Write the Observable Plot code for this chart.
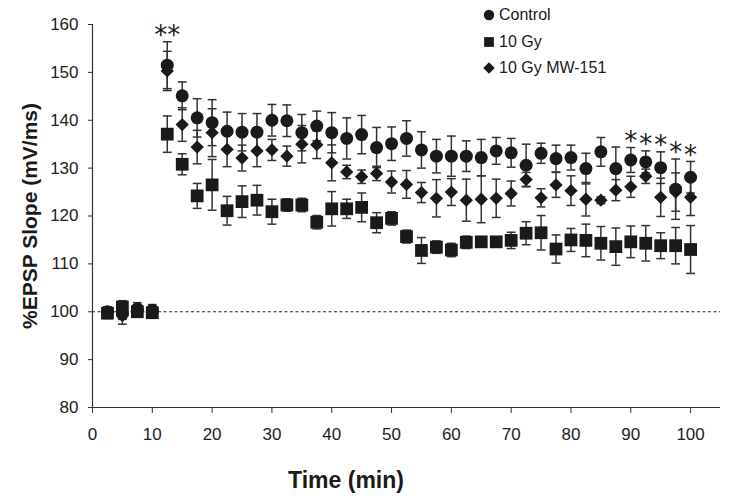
<!DOCTYPE html>
<html>
<head>
<meta charset="utf-8">
<script src="https://cdn.jsdelivr.net/npm/d3@7"></script>
<script src="https://cdn.jsdelivr.net/npm/@observablehq/plot@0.6"></script>
<style>
  html, body { margin: 0; padding: 0; background: #fff; }
  #wrap { position: relative; width: 729px; height: 501px; font-family: "Liberation Sans", Arial, sans-serif; color: #1a1a1a; }
  #legend { position: absolute; left: 481px; top: 2px; font-size: 16px; line-height: 26.5px; }
  #legend .item { display: flex; align-items: center; height: 26.5px; }
  #legend svg { margin-right: 2px; }
  .ylab { position: absolute; left: 30px; top: 216px; transform: translate(-50%, -50%) rotate(-90deg); font-weight: bold; font-size: 21px; white-space: nowrap; color: #1a1a1a; }
  .xlab { position: absolute; left: 346px; top: 480px; transform: translate(-50%, -50%); font-weight: bold; font-size: 23px; white-space: nowrap; color: #1a1a1a; }
</style>
</head>
<body>
<div id="wrap"></div>
<script>
// ---- data ----
const times = [2.5, 5, 7.5, 10, 12.5, 15, 17.5, 20, 22.5, 25, 27.5, 30, 32.5, 35, 37.5, 40, 42.5, 45, 47.5, 50,
  52.5, 55, 57.5, 60, 62.5, 65, 67.5, 70, 72.5, 75, 77.5, 80, 82.5, 85, 87.5, 90, 92.5, 95, 97.5, 100];

const seriesNames = ["Control", "10 Gy", "10 Gy MW-151"];

const controlMean = [100.0, 99.6, 100.6, 100.3,
  151.5, 145.1, 140.5, 139.5, 137.7, 137.5, 137.5, 140.0, 139.9, 137.4, 138.8, 137.4, 136.2, 137.0, 134.3, 135.1,
  136.2, 133.8, 132.5, 132.5, 132.5, 132.2, 133.6, 133.2, 130.6, 133.1, 132.0, 132.2, 129.9, 133.4, 129.9, 131.7,
  131.3, 130.1, 125.6, 128.1];
const controlSE = [1.0, 1.2, 1.3, 1.2,
  4.9, 2.9, 4.0, 4.8, 4.0, 3.9, 3.9, 3.3, 3.3, 3.8, 3.1, 4.2, 4.3, 4.0, 4.2, 3.5,
  3.7, 3.8, 3.5, 4.2, 3.2, 3.8, 2.8, 3.0, 4.4, 2.1, 2.8, 2.6, 3.2, 3.0, 4.5, 2.6,
  2.3, 3.3, 6.3, 3.3];

const gyMean = [99.7, 101.0, 100.0, 99.8,
  137.1, 130.8, 124.2, 126.5, 121.1, 123.0, 123.3, 120.9, 122.3, 122.3, 118.7, 121.5, 121.5, 121.8, 118.6, 119.5,
  115.7, 112.8, 113.5, 112.9, 114.5, 114.6, 114.6, 114.9, 116.4, 116.5, 113.1, 115.0, 114.9, 114.3, 113.6, 114.6,
  114.3, 113.8, 113.8, 113.0];
const gySE = [1.0, 1.3, 1.0, 1.0,
  3.8, 2.2, 2.6, 5.3, 3.0, 3.3, 3.1, 2.6, 1.3, 1.4, 1.4, 3.6, 2.0, 3.0, 2.1, 1.4,
  1.35, 2.7, 1.3, 1.4, 1.3, 1.0, 1.0, 1.7, 2.4, 3.6, 2.95, 2.4, 3.4, 3.5, 3.9, 3.3,
  3.7, 2.7, 3.8, 5.0];

const mwMean = [99.8, 99.2, 100.2, 99.8,
  150.3, 139.1, 134.4, 137.4, 133.9, 132.1, 133.6, 133.8, 132.5, 135.0, 134.9, 131.1, 129.2, 128.2, 128.9, 127.1,
  126.6, 124.9, 123.7, 125.0, 123.3, 123.5, 123.7, 124.7, 127.6, 123.8, 126.5, 125.3, 123.5, 123.3, 125.4, 126.1,
  128.3, 123.9, 125.0, 123.9];
const mwSE = [1.2, 1.8, 1.0, 1.0,
  4.1, 3.5, 3.5, 5.0, 3.6, 2.7, 3.3, 2.2, 2.1, 3.9, 2.9, 3.75, 1.4, 1.4, 1.5, 2.3,
  2.9, 2.1, 3.9, 2.8, 4.4, 4.9, 4.0, 2.6, 1.5, 1.9, 2.6, 3.1, 3.5, 0.7, 2.2, 2.2,
  1.5, 4.0, 4.0, 3.8];

const xTicks = [0, 10, 20, 30, 40, 50, 60, 70, 80, 90, 100];
const yTicks = [80, 90, 100, 110, 120, 130, 140, 150, 160];

// significance marks (placed above the Control error bar)
const sigTimes = [12.5, 90, 92.5, 95, 97.5, 100];
const sigLabels = ["**", "*", "*", "*", "*", "*"];

// ---- build table ----
const means = [controlMean, gyMean, mwMean];
const ses = [controlSE, gySE, mwSE];
const rows = [];
seriesNames.forEach((s, i) => times.forEach((t, j) => rows.push({series: s, t, m: means[i][j], se: ses[i][j]})));
const sigRows = sigTimes.map((t, k) => {
  const j = times.indexOf(t);
  return {t, label: sigLabels[k], top: controlMean[j] + controlSE[j]};
});

const cap = {draw(ctx, size) { const w = Math.sqrt(size) / 2; ctx.moveTo(-w, 0); ctx.lineTo(w, 0); }};
const ink = "#1a1a1a";
const barInk = "#333";

const plot = Plot.plot({
  width: 729,
  height: 501,
  marginLeft: 92,
  marginRight: 9,
  marginTop: 24,
  marginBottom: 94,
  style: {fontFamily: "'Liberation Sans', Arial, sans-serif", background: "white", color: ink},
  x: {domain: [0, 105]},
  y: {domain: [80, 160]},
  marks: [
    Plot.ruleY([100], {stroke: "#222", strokeWidth: 1, strokeDasharray: "3,2.5"}),
    Plot.ruleX([0], {stroke: barInk, strokeWidth: 1.2}),
    Plot.ruleY([80], {stroke: barInk, strokeWidth: 1.2}),
    Plot.axisX({ticks: xTicks, tickSize: 6, tickPadding: 14, fontSize: 17, label: null, stroke: barInk, color: "#222"}),
    Plot.axisY({ticks: yTicks, tickSize: 4, tickPadding: 10, fontSize: 17, label: null, stroke: barInk, color: "#222"}),
    Plot.ruleX(rows, {x: "t", y1: d => d.m - d.se, y2: d => d.m + d.se, stroke: barInk, strokeWidth: 1.5}),
    Plot.dot(rows, {x: "t", y: d => d.m + d.se, symbol: cap, r: 5, stroke: barInk, strokeWidth: 1.5, fill: "none"}),
    Plot.dot(rows, {x: "t", y: d => d.m - d.se, symbol: cap, r: 5, stroke: barInk, strokeWidth: 1.5, fill: "none"}),
    Plot.dot(rows.filter(d => d.series === "Control"), {x: "t", y: "m", symbol: "circle", r: 6.5, fill: ink, stroke: "none"}),
    Plot.dot(rows.filter(d => d.series === "10 Gy"), {x: "t", y: "m", symbol: "square", r: 7.2, fill: ink, stroke: "none"}),
    Plot.dot(rows.filter(d => d.series === "10 Gy MW-151"), {x: "t", y: "m", symbol: "diamond2", r: 6, fill: ink, stroke: "none"}),
    Plot.text(sigRows, {x: "t", y: "top", text: "label", dy: -6, fontSize: 26, fontFamily: "DejaVu Sans", fill: ink})
  ]
});

const wrap = document.getElementById("wrap");
wrap.appendChild(plot);

// legend
const legend = document.createElement("div");
legend.id = "legend";
const symTypes = [d3.symbolCircle, d3.symbolSquare, d3.symbolDiamond2];
const symSizes = [85, 95, 85];
seriesNames.forEach((name, i) => {
  const item = document.createElement("div");
  item.className = "item";
  const svg = d3.create("svg").attr("width", 16).attr("height", 16);
  svg.append("path").attr("transform", "translate(8,8)").attr("d", d3.symbol(symTypes[i], symSizes[i])()).attr("fill", ink);
  item.appendChild(svg.node());
  const span = document.createElement("span");
  span.textContent = name;
  item.appendChild(span);
  legend.appendChild(item);
});
wrap.appendChild(legend);

const yl = document.createElement("div"); yl.className = "ylab"; yl.textContent = "%EPSP Slope (mV/ms)"; wrap.appendChild(yl);
const xl = document.createElement("div"); xl.className = "xlab"; xl.textContent = "Time (min)"; wrap.appendChild(xl);
</script>
</body>
</html>
